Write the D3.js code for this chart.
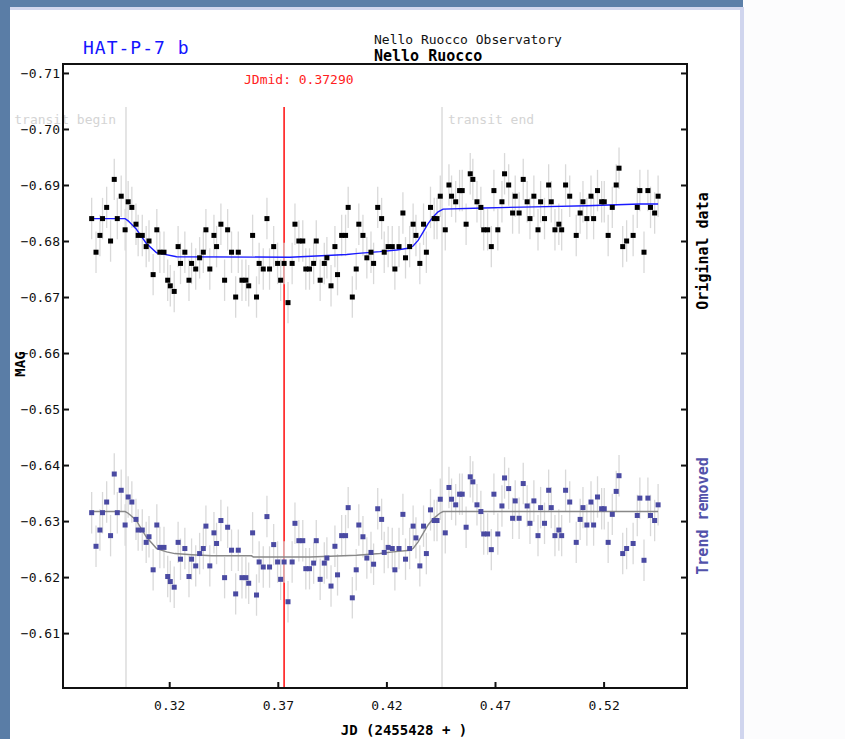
<!DOCTYPE html>
<html>
<head>
<meta charset="utf-8">
<script src="https://cdn.jsdelivr.net/npm/d3@7"></script>
<style>
  body { margin: 0; background: #fcfcfd; }
  svg { display: block; }
</style>
</head>
<body>
<script>
// observation times (JD - 2455428)
const jd = [
  0.2843, 0.2863, 0.2881, 0.2893, 0.2912, 0.2930, 0.2947, 0.2961, 0.2979, 0.2997,
  0.3011, 0.3028, 0.3047, 0.3057, 0.3076, 0.3094, 0.3107, 0.3126, 0.3143, 0.3157,
  0.3176, 0.3193, 0.3205, 0.3223, 0.3241, 0.3252, 0.3272, 0.3291, 0.3303, 0.3322,
  0.3340, 0.3357, 0.3369, 0.3387, 0.3406, 0.3418, 0.3438, 0.3455, 0.3469, 0.3487,
  0.3506, 0.3518, 0.3535, 0.3553, 0.3566, 0.3584, 0.3602, 0.3614, 0.3633, 0.3650,
  0.3662, 0.3681, 0.3699, 0.3713, 0.3729, 0.3747, 0.3766, 0.3779, 0.3797, 0.3815,
  0.3829, 0.3846, 0.3865, 0.3877, 0.3895, 0.3914, 0.3926, 0.3945, 0.3963, 0.3975,
  0.3994, 0.4012, 0.4024, 0.4043, 0.4061, 0.4073, 0.4092, 0.4110, 0.4129, 0.4141,
  0.4160, 0.4178, 0.4190, 0.4208, 0.4227, 0.4239, 0.4258, 0.4276, 0.4288, 0.4307,
  0.4323, 0.4336, 0.4354, 0.4371, 0.4384, 0.4403, 0.4420, 0.4433, 0.4448, 0.4471,
  0.4488, 0.4500, 0.4519, 0.4537, 0.4549, 0.4567, 0.4586, 0.4598, 0.4617, 0.4635,
  0.4648, 0.4666, 0.4683, 0.4695, 0.4713, 0.4732, 0.4744, 0.4763, 0.4781, 0.4793,
  0.4811, 0.4830, 0.4848, 0.4861, 0.4879, 0.4898, 0.4910, 0.4928, 0.4947, 0.4959,
  0.4976, 0.4994, 0.5007, 0.5025, 0.5044, 0.5074, 0.5092, 0.5105, 0.5123, 0.5142,
  0.5154, 0.5172, 0.5191, 0.5203, 0.5221, 0.5240, 0.5258, 0.5271, 0.5288, 0.5306,
  0.5336, 0.5355, 0.5367, 0.5386, 0.5404, 0.5416, 0.5435, 0.5451
];
const magOriginal = [
  -0.684, -0.678, -0.681, -0.684, -0.686, -0.680, -0.691, -0.684, -0.688, -0.682,
  -0.687, -0.686, -0.683, -0.681, -0.681, -0.679, -0.680, -0.674, -0.682, -0.678,
  -0.678, -0.673, -0.672, -0.671, -0.679, -0.676, -0.678, -0.673, -0.676, -0.675,
  -0.677, -0.678, -0.682, -0.675, -0.681, -0.679, -0.683, -0.673, -0.682, -0.678,
  -0.670, -0.678, -0.673, -0.673, -0.672, -0.681, -0.670, -0.676, -0.675, -0.684,
  -0.675, -0.679, -0.676, -0.673, -0.676, -0.669, -0.676, -0.683, -0.680, -0.680,
  -0.675, -0.675, -0.676, -0.680, -0.673, -0.676, -0.677, -0.672, -0.679, -0.674,
  -0.681, -0.681, -0.686, -0.670, -0.675, -0.683, -0.681, -0.677, -0.678, -0.676,
  -0.686, -0.684, -0.678, -0.679, -0.679, -0.675, -0.679, -0.685, -0.677, -0.679,
  -0.683, -0.681, -0.676, -0.683, -0.678, -0.686, -0.684, -0.684, -0.688, -0.682,
  -0.690, -0.688, -0.687, -0.689, -0.689, -0.683, -0.692, -0.691, -0.687, -0.686,
  -0.682, -0.682, -0.679, -0.689, -0.682, -0.687, -0.692, -0.690, -0.685, -0.688,
  -0.685, -0.691, -0.687, -0.684, -0.688, -0.682, -0.687, -0.684, -0.690, -0.687,
  -0.682, -0.683, -0.682, -0.690, -0.688, -0.681, -0.685, -0.687, -0.684, -0.688,
  -0.684, -0.689, -0.687, -0.687, -0.681, -0.686, -0.690, -0.693, -0.679, -0.680,
  -0.681, -0.686, -0.689, -0.678, -0.689, -0.686, -0.685, -0.688
];
const magDetrended = [
  -0.6315, -0.6255, -0.6284, -0.6315, -0.6334, -0.6274, -0.6384, -0.6315, -0.6355, -0.6293,
  -0.6343, -0.6334, -0.6303, -0.6284, -0.6284, -0.6262, -0.6272, -0.6213, -0.6293, -0.6253,
  -0.6253, -0.6201, -0.6192, -0.6182, -0.6262, -0.6232, -0.6251, -0.6201, -0.6232, -0.6220,
  -0.6242, -0.6251, -0.6291, -0.6220, -0.6279, -0.6260, -0.6301, -0.6199, -0.6289, -0.6248,
  -0.6170, -0.6248, -0.6199, -0.6199, -0.6189, -0.6279, -0.6168, -0.6227, -0.6218, -0.6308,
  -0.6218, -0.6258, -0.6227, -0.6196, -0.6227, -0.6156, -0.6227, -0.6296, -0.6265, -0.6265,
  -0.6215, -0.6215, -0.6225, -0.6265, -0.6196, -0.6225, -0.6234, -0.6184, -0.6255, -0.6204,
  -0.6274, -0.6274, -0.6324, -0.6163, -0.6213, -0.6293, -0.6272, -0.6234, -0.6244, -0.6223,
  -0.6322, -0.6303, -0.6244, -0.6253, -0.6251, -0.6213, -0.6251, -0.6312, -0.6232, -0.6251,
  -0.6291, -0.6270, -0.6220, -0.6291, -0.6242, -0.6320, -0.6301, -0.6301, -0.6339, -0.6279,
  -0.6360, -0.6339, -0.6329, -0.6348, -0.6348, -0.6289, -0.6379, -0.6370, -0.6329, -0.6317,
  -0.6277, -0.6277, -0.6249, -0.6348, -0.6277, -0.6327, -0.6377, -0.6358, -0.6305, -0.6336,
  -0.6305, -0.6367, -0.6327, -0.6296, -0.6336, -0.6274, -0.6324, -0.6296, -0.6355, -0.6324,
  -0.6274, -0.6284, -0.6274, -0.6355, -0.6334, -0.6262, -0.6303, -0.6324, -0.6293, -0.6334,
  -0.6293, -0.6343, -0.6322, -0.6322, -0.6262, -0.6312, -0.6353, -0.6381, -0.6242, -0.6251,
  -0.6260, -0.6310, -0.6341, -0.6230, -0.6341, -0.6310, -0.6301, -0.6329
];
const magError = 0.0037;

// fitted transit models
const fitJd = [0.2843, 0.2997, 0.3011, 0.3047, 0.3094, 0.3142, 0.3157, 0.3234, 0.3756, 0.3925,
  0.4017, 0.4070, 0.4170, 0.4247, 0.4300, 0.4323, 0.4346, 0.4369, 0.4392, 0.4415,
  0.4438, 0.4461, 0.4646, 0.4884, 0.5122, 0.5367, 0.5451];
const fitOriginal = [-0.6840, -0.6840, -0.6836, -0.6822, -0.6796, -0.6779, -0.6778, -0.6772, -0.6771, -0.6774,
  -0.6776, -0.6778, -0.6781, -0.6784, -0.6787, -0.6791, -0.6801, -0.6816, -0.6831, -0.6843,
  -0.6852, -0.6857, -0.6859, -0.6861, -0.6863, -0.6866, -0.6866];
const fitDetJd = [0.2843, 0.2997, 0.3011, 0.3047, 0.3094, 0.3142, 0.3188, 0.3226, 0.3303, 0.3395,
  0.3579, 0.3587, 0.3848, 0.4063, 0.4170, 0.4231, 0.4308, 0.4323, 0.4346, 0.4369,
  0.4392, 0.4415, 0.4446, 0.4461, 0.5451];
const fitDetrended = [-0.6317, -0.6317, -0.6314, -0.6302, -0.6272, -0.6251, -0.6245, -0.6242, -0.6240, -0.6238,
  -0.6238, -0.6236, -0.6236, -0.6239, -0.6242, -0.6245, -0.6248, -0.6251, -0.6263, -0.6278,
  -0.6293, -0.6304, -0.6314, -0.6317, -0.6317];

const xTicks = [0.32, 0.37, 0.42, 0.47, 0.52];
const yTicks = [-0.71, -0.70, -0.69, -0.68, -0.67, -0.66, -0.65, -0.64, -0.63, -0.62, -0.61];
const transitBegin = 0.3001;
const transitEnd = 0.4456;
const jdMid = 0.3729;

const width = 845;
const height = 739;
const plot = { left: 63, top: 64, right: 687, bottom: 688 };
const mono = "'DejaVu Sans Mono', monospace";

const svg = d3.select('body').append('svg').attr('width', width).attr('height', height);

// page background: blue slide edge + lavender border
svg.append('rect').attr('width', width).attr('height', height).attr('fill', '#fcfcfd');
svg.append('rect').attr('x', 0).attr('y', 0).attr('width', 743).attr('height', 7).attr('fill', '#5c7fa8');
svg.append('rect').attr('x', 0).attr('y', 0).attr('width', 10).attr('height', height).attr('fill', '#5a7da6');
svg.append('rect').attr('x', 10).attr('y', 7).attr('width', 734).attr('height', 3).attr('fill', '#d3d7ee');
svg.append('rect').attr('x', 740).attr('y', 7).attr('width', 4).attr('height', height - 7).attr('fill', '#d0d5ee');
svg.append('rect').attr('x', 10).attr('y', 10).attr('width', 730).attr('height', height - 10).attr('fill', '#ffffff');

const x = d3.scaleLinear().domain([0.2711, 0.5584]).range([plot.left, plot.right]);
const y = d3.scaleLinear().domain([-0.7116, -0.6002]).range([plot.top, plot.bottom]);

// transit markers
const markTop = 107;
[transitBegin, transitEnd].forEach((t) => {
  svg.append('line')
    .attr('x1', x(t)).attr('x2', x(t))
    .attr('y1', markTop).attr('y2', plot.bottom)
    .attr('stroke', '#dcdcdc').attr('stroke-width', 1.5);
});
svg.append('text')
  .attr('x', x(transitBegin) - 10).attr('y', 124)
  .attr('text-anchor', 'end')
  .attr('font-family', mono).attr('font-size', 13).attr('fill', '#d4d4d4')
  .text('transit begin');
svg.append('text')
  .attr('x', x(transitEnd) + 6).attr('y', 124)
  .attr('font-family', mono).attr('font-size', 13).attr('fill', '#d4d4d4')
  .text('transit end');

svg.append('line')
  .attr('x1', x(jdMid)).attr('x2', x(jdMid))
  .attr('y1', markTop).attr('y2', plot.bottom)
  .attr('stroke', '#ff1a1a').attr('stroke-width', 1.6);
svg.append('text')
  .attr('x', 244).attr('y', 84)
  .attr('font-family', mono).attr('font-size', 13).attr('fill', '#ff2020')
  .text(`JDmid: ${jdMid.toFixed(5)}`);

// error bars + points for both series
const series = [
  { mags: magOriginal, color: '#000000' },
  { mags: magDetrended, color: '#4a4aa2' }
];
series.forEach((s) => {
  const g = svg.append('g');
  g.selectAll('line')
    .data(jd)
    .enter().append('line')
      .attr('x1', d => x(d)).attr('x2', d => x(d))
      .attr('y1', (d, i) => y(s.mags[i] - magError))
      .attr('y2', (d, i) => y(s.mags[i] + magError))
      .attr('stroke', '#d9d9d9').attr('stroke-width', 1.3);
});

const line = d3.line().x(d => x(d[0])).y(d => y(d[1]));
svg.append('path')
  .attr('d', line(fitJd.map((t, i) => [t, fitOriginal[i]])))
  .attr('fill', 'none').attr('stroke', '#1a1aff').attr('stroke-width', 1.4);
svg.append('path')
  .attr('d', line(fitDetJd.map((t, i) => [t, fitDetrended[i]])))
  .attr('fill', 'none').attr('stroke', '#888888').attr('stroke-width', 1.4);

series.forEach((s) => {
  svg.append('g').selectAll('rect')
    .data(jd)
    .enter().append('rect')
      .attr('x', d => x(d) - 2.5)
      .attr('y', (d, i) => y(s.mags[i]) - 2.5)
      .attr('width', 5).attr('height', 5)
      .attr('fill', s.color);
});

// axes
const xAxis = d3.axisBottom(x).tickValues(xTicks).tickSizeInner(-6).tickSizeOuter(0)
  .tickPadding(13).tickFormat(d3.format('.2f'));
const yAxis = d3.axisLeft(y).tickValues(yTicks).tickSizeInner(-6).tickSizeOuter(0)
  .tickPadding(3).tickFormat(d3.format('.2f'));
const yAxisRight = d3.axisRight(y).tickValues(yTicks).tickSizeInner(-6).tickSizeOuter(0).tickFormat('');

const styleAxis = (g) => {
  g.select('.domain').remove();
  g.selectAll('line').attr('stroke', '#111').attr('stroke-width', 2);
  g.selectAll('text').attr('font-family', mono).attr('font-size', 13).attr('fill', '#111');
};
svg.append('g').attr('transform', `translate(0, ${plot.bottom})`).call(xAxis).call(styleAxis);
svg.append('g').attr('transform', `translate(${plot.left}, 0)`).call(yAxis).call(styleAxis);
svg.append('g').attr('transform', `translate(${plot.right}, 0)`).call(yAxisRight).call(styleAxis);

svg.append('rect')
  .attr('x', plot.left).attr('y', plot.top)
  .attr('width', plot.right - plot.left).attr('height', plot.bottom - plot.top)
  .attr('fill', 'none').attr('stroke', '#111').attr('stroke-width', 2);

// titles and labels
svg.append('text')
  .attr('x', 83).attr('y', 54)
  .attr('font-family', mono).attr('font-size', 18).attr('letter-spacing', 1)
  .attr('fill', '#1414ff')
  .text('HAT-P-7 b');
svg.append('text')
  .attr('x', 374).attr('y', 44)
  .attr('font-family', mono).attr('font-size', 13).attr('fill', '#111')
  .text('Nello Ruocco Observatory');
svg.append('text')
  .attr('x', 374).attr('y', 61)
  .attr('font-family', mono).attr('font-size', 15).attr('font-weight', 'bold').attr('fill', '#000')
  .text('Nello Ruocco');
svg.append('text')
  .attr('text-anchor', 'middle')
  .attr('transform', 'translate(404, 735)')
  .attr('font-family', mono).attr('font-size', 14).attr('font-weight', 'bold').attr('fill', '#000')
  .text('JD (2455428 + )');
svg.append('text')
  .attr('text-anchor', 'middle')
  .attr('transform', 'translate(25, 364) rotate(-90)')
  .attr('font-family', mono).attr('font-size', 14).attr('font-weight', 'bold').attr('fill', '#000')
  .text('MAG');
svg.append('text')
  .attr('text-anchor', 'middle')
  .attr('transform', 'translate(708, 251) rotate(-90)')
  .attr('font-family', mono).attr('font-size', 15).attr('font-weight', 'bold').attr('fill', '#000')
  .text('Original data');
svg.append('text')
  .attr('text-anchor', 'middle')
  .attr('transform', 'translate(708, 516) rotate(-90)')
  .attr('font-family', mono).attr('font-size', 15).attr('font-weight', 'bold').attr('fill', '#5252aa')
  .text('Trend removed');
</script>
</body>
</html>
